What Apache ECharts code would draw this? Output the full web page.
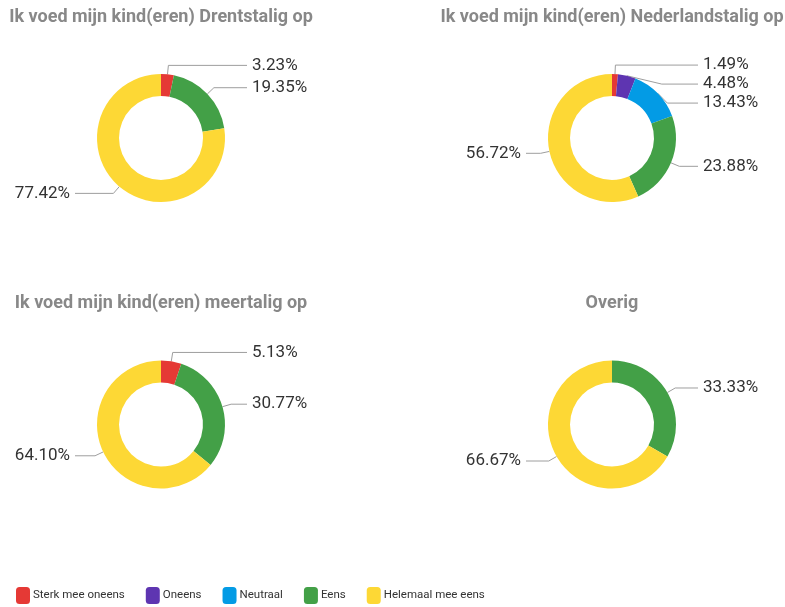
<!DOCTYPE html>
<html>
<head>
<meta charset="utf-8">
<script src="https://cdn.jsdelivr.net/npm/echarts@6/dist/echarts.min.js"></script>
<style>
html,body{margin:0;padding:0;background:#fff;}
#chart{width:785px;height:607px;}
</style>
</head>
<body>
<div id="chart"></div>
<script>
// Categories (legend order)
const categories = ['Sterk mee oneens', 'Oneens', 'Neutraal', 'Eens', 'Helemaal mee eens'];
const categoryColors = ['#E53935', '#5E35B1', '#039BE5', '#43A047', '#FDD835'];

// Chart titles
const chartTitles = [
  'Ik voed mijn kind(eren) Drentstalig op',
  'Ik voed mijn kind(eren) Nederlandstalig op',
  'Ik voed mijn kind(eren) meertalig op',
  'Overig'
];

// Percentages per chart (same order as categories; null = not present)
const drentstalig     = [3.23, null, null, 19.35, 77.42];
const nederlandstalig = [1.49, 4.48, 13.43, 23.88, 56.72];
const meertalig       = [5.13, null, null, 30.77, 64.10];
const overig          = [null, null, null, 33.33, 66.67];

const seriesValues = [drentstalig, nederlandstalig, meertalig, overig];

// Layout (positions / styles)
const centers = [[161, 138], [612, 138], [161, 424.5], [612, 424.5]];
const titleTops = [8, 8, 294, 294];
const R0 = 42, R = 64, LEN1 = 9, LABEL_REACH = 86;

const chart = echarts.init(document.getElementById('chart'), null, {renderer: 'canvas'});

// Horizontal label-line segment so every label line ends at the same distance from the centre
function lineSecondLengths(vals) {
  const items = vals.filter(v => v != null);
  const total = items.reduce((a, b) => a + b, 0);
  let acc = 0;
  return items.map(v => {
    const mid = (90 - (acc + v / 2) / total * 360) * Math.PI / 180;
    acc += v;
    const x2 = (R + LEN1) * Math.cos(mid);
    return Math.max(6, LABEL_REACH - Math.abs(x2));
  });
}

const series = seriesValues.map((vals, si) => {
  const l2 = lineSecondLengths(vals);
  let k = 0;
  const data = [];
  categories.forEach((c, ci) => {
    if (vals[ci] == null) return;
    data.push({
      name: c,
      value: vals[ci],
      itemStyle: {color: categoryColors[ci]},
      labelLine: {length2: l2[k++]}
    });
  });
  return {
    type: 'pie',
    radius: [R0, R],
    center: centers[si],
    startAngle: 90,
    clockwise: true,
    avoidLabelOverlap: true,
    silent: true,
    emphasis: {disabled: true},
    label: {
      show: true,
      position: 'outside',
      alignTo: 'labelLine',
      bleedMargin: 2,
      distanceToLabelLine: 5,
      formatter: p => p.value.toFixed(2) + '%',
      color: '#333333',
      fontFamily: 'Roboto, sans-serif',
      fontSize: 17
    },
    labelLine: {
      show: true,
      length: LEN1,
      length2: 20,
      lineStyle: {color: '#9e9e9e', width: 1}
    },
    itemStyle: {borderWidth: 0},
    data: data
  };
});

const option = {
  backgroundColor: '#ffffff',
  animation: false,
  color: categoryColors,
  title: chartTitles.map((t, i) => ({
    text: t,
    left: centers[i][0],
    top: titleTops[i],
    textAlign: 'center',
    padding: 0,
    textStyle: {
      color: '#888888',
      fontFamily: 'Roboto, sans-serif',
      fontWeight: 'bold',
      fontSize: 18
    }
  })),
  legend: {
    data: categories.map((c, i) => ({name: c, itemStyle: {color: categoryColors[i]}})),
    left: 16,
    top: 587,
    padding: 0,
    icon: 'roundRect',
    itemWidth: 14,
    itemHeight: 17,
    itemGap: 21,
    selectedMode: false,
    textStyle: {
      color: '#333333',
      fontFamily: 'Roboto, sans-serif',
      fontSize: 11.5,
      padding: [0, 0, 0, -2]
    }
  },
  series: series
};

chart.setOption(option);
</script>
</body>
</html>
